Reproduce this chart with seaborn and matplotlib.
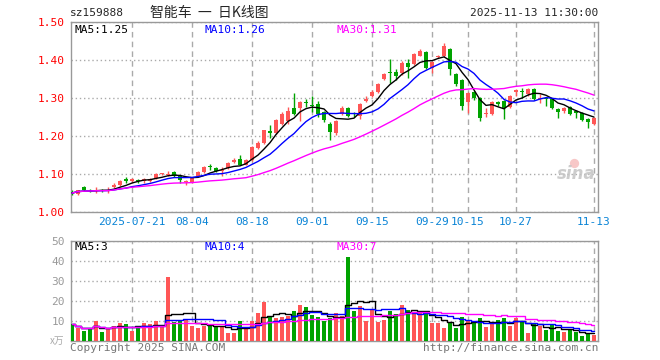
import numpy as np
import pandas as pd
import matplotlib
matplotlib.use("Agg")
import matplotlib.pyplot as plt
import seaborn as sns

# ── DATA ────────────────────────────────────────────────────────────────────
opens = [1.052, 1.047, 1.066, 1.058, 1.055, 1.058, 1.055, 1.066, 1.069, 1.085,
         1.082, 1.083, 1.080, 1.082, 1.089, 1.098, 1.097, 1.104, 1.094, 1.079,
         1.078, 1.094, 1.104, 1.120, 1.115, 1.107, 1.115, 1.132, 1.140, 1.124,
         1.135, 1.167, 1.180, 1.213, 1.208, 1.232, 1.240, 1.273, 1.273, 1.289,
         1.281, 1.284, 1.263, 1.232, 1.206, 1.258, 1.273, 1.260, 1.253, 1.292,
         1.305, 1.315, 1.349, 1.367, 1.367, 1.365, 1.391, 1.388, 1.411, 1.419,
         1.378, 1.407, 1.409, 1.427, 1.362, 1.346, 1.289, 1.315, 1.299, 1.258,
         1.258, 1.289, 1.292, 1.276, 1.316, 1.318, 1.310, 1.323, 1.297, 1.299,
         1.297, 1.271, 1.266, 1.276, 1.264, 1.260, 1.245, 1.232]
closes = [1.049, 1.057, 1.056, 1.056, 1.058, 1.055, 1.058, 1.069, 1.082, 1.082,
          1.086, 1.080, 1.086, 1.087, 1.099, 1.101, 1.100, 1.094, 1.083, 1.082,
          1.089, 1.104, 1.117, 1.117, 1.106, 1.110, 1.128, 1.135, 1.124, 1.135,
          1.169, 1.182, 1.214, 1.208, 1.242, 1.258, 1.266, 1.258, 1.289, 1.285,
          1.278, 1.258, 1.242, 1.209, 1.240, 1.273, 1.253, 1.256, 1.284, 1.297,
          1.315, 1.336, 1.362, 1.364, 1.357, 1.391, 1.380, 1.414, 1.422, 1.378,
          1.393, 1.409, 1.435, 1.375, 1.336, 1.279, 1.313, 1.299, 1.247, 1.261,
          1.289, 1.284, 1.273, 1.305, 1.319, 1.315, 1.323, 1.297, 1.300, 1.297,
          1.273, 1.263, 1.274, 1.258, 1.261, 1.242, 1.237, 1.247]
highs = [1.056, 1.058, 1.068, 1.060, 1.064, 1.060, 1.064, 1.075, 1.084, 1.091,
         1.089, 1.085, 1.089, 1.089, 1.101, 1.103, 1.106, 1.106, 1.096, 1.083,
         1.091, 1.106, 1.120, 1.125, 1.117, 1.117, 1.130, 1.141, 1.148, 1.140,
         1.172, 1.185, 1.216, 1.229, 1.245, 1.263, 1.276, 1.313, 1.292, 1.297,
         1.305, 1.292, 1.266, 1.235, 1.242, 1.278, 1.276, 1.263, 1.286, 1.305,
         1.320, 1.338, 1.365, 1.401, 1.375, 1.396, 1.401, 1.417, 1.427, 1.422,
         1.396, 1.412, 1.445, 1.430, 1.365, 1.349, 1.315, 1.318, 1.302, 1.273,
         1.292, 1.292, 1.294, 1.307, 1.323, 1.326, 1.326, 1.326, 1.310, 1.300,
         1.299, 1.273, 1.276, 1.279, 1.268, 1.263, 1.247, 1.250]
lows = [1.044, 1.044, 1.054, 1.053, 1.050, 1.053, 1.049, 1.062, 1.067, 1.076,
        1.078, 1.076, 1.076, 1.079, 1.087, 1.096, 1.094, 1.092, 1.076, 1.070,
        1.075, 1.092, 1.102, 1.109, 1.104, 1.094, 1.113, 1.128, 1.122, 1.122,
        1.133, 1.165, 1.178, 1.195, 1.205, 1.227, 1.232, 1.255, 1.240, 1.276,
        1.263, 1.250, 1.237, 1.188, 1.203, 1.255, 1.250, 1.250, 1.245, 1.290,
        1.303, 1.313, 1.346, 1.339, 1.346, 1.360, 1.352, 1.385, 1.409, 1.375,
        1.365, 1.404, 1.406, 1.360, 1.330, 1.268, 1.260, 1.294, 1.240, 1.250,
        1.255, 1.279, 1.245, 1.273, 1.305, 1.300, 1.305, 1.294, 1.286, 1.279,
        1.271, 1.247, 1.260, 1.255, 1.247, 1.240, 1.219, 1.227]
volumes = [8.3, 6.2, 5.0, 6.2, 10.0, 4.2, 6.3, 7.5, 8.7, 8.3,
           4.7, 7.0, 8.7, 8.3, 9.7, 6.7, 31.7, 9.5, 10.3, 10.3,
           7.2, 6.2, 7.2, 8.0, 7.5, 7.5, 3.7, 3.7, 9.7, 6.3,
           10.0, 13.7, 19.2, 12.0, 11.3, 12.0, 12.5, 15.0, 18.0, 17.0,
           13.0, 12.0, 9.7, 11.3, 13.7, 12.5, 42.0, 14.7, 17.5, 9.7,
           15.7, 9.2, 10.5, 15.0, 13.5, 18.0, 15.5, 13.7, 13.7, 13.7,
           8.7, 8.7, 6.2, 9.5, 6.2, 12.0, 10.0, 9.7, 11.3, 6.7,
           8.3, 10.3, 11.3, 7.2, 11.3, 10.0, 3.7, 8.3, 7.5, 5.5,
           8.0, 5.0, 4.5, 5.3, 4.5, 2.5, 3.7, 3.0]

tick_dates = ["2025-07-21", "2025-08-04", "2025-08-18", "2025-09-01", "2025-09-15",
              "2025-09-29", "2025-10-15", "2025-10-27", "2025-11-13"]
tick_labels = ["2025-07-21", "08-04", "08-18", "09-01", "09-15",
               "09-29", "10-15", "10-27", "11-13"]
price_ticks = [1.00, 1.10, 1.20, 1.30, 1.40, 1.50]
vol_ticks = [0, 10, 20, 30, 40, 50]

# trading days: weekdays, minus the October national holiday
days = pd.bdate_range("2025-07-07", "2025-11-13")
days = days[(days < "2025-10-01") | (days > "2025-10-08")]

df = pd.DataFrame({"date": days, "open": opens, "close": closes,
                   "high": highs, "low": lows, "volume": volumes})
df["idx"] = np.arange(len(df))
df["up"] = df["close"] >= df["open"]
for n in (5, 10, 30):
    df[f"ma{n}"] = df["close"].rolling(n, min_periods=1).mean()
    df[f"vma{n}"] = df["volume"].rolling(n, min_periods=1).mean()

tick_pos = [int(df.index[df["date"] == pd.Timestamp(d)][0]) for d in tick_dates]

# ── STYLE ───────────────────────────────────────────────────────────────────
sns.set_style("white")
plt.rcParams["font.family"] = ["DejaVu Sans Mono", "Noto Sans CJK SC"]

RED, GREEN = "#ff5656", "#00a300"
GRID = "#aaaaaa"
colors = np.where(df["up"], RED, GREEN)

W, H = 660, 360
fig = plt.figure(figsize=(6.6, 3.6), dpi=100)
ax = fig.add_axes([70.5 / W, 1 - 211.7 / H, 527 / W, 190 / H])
axv = fig.add_axes([70.5 / W, 1 - 340.7 / H, 527 / W, 100 / H])

xlim = (-0.25, -0.25 + 527 / 6)

# ── PRICE PANEL ─────────────────────────────────────────────────────────────
body = (df["close"] - df["open"]).abs().clip(lower=0.0022)
bottom = df[["open", "close"]].min(axis=1)
ax.vlines(df["idx"], df["low"], df["high"], colors=colors, lw=1, zorder=3)
ax.bar(df["idx"], body, bottom=bottom, width=0.75, color=colors, lw=0, zorder=4)

for col, c in (("ma5", "black"), ("ma10", "#0000ff"), ("ma30", "#ff00ff")):
    sns.lineplot(data=df, x="idx", y=col, ax=ax, color=c, lw=1, zorder=5)

ax.set_xlim(*xlim)
ax.set_ylim(1.0, 1.5)
ax.set_yticks(price_ticks)
ax.set_yticklabels([f"{p:.2f}" for p in price_ticks], color="#ff0000", fontsize=8)
ax.set_xticks(tick_pos)
ax.set_xticklabels(tick_labels, color="#0a84d6", fontsize=8)
ax.set_xlabel("")
ax.set_ylabel("")
ax.grid(axis="x", color=GRID, lw=1, linestyle=(0, (4, 3)))
ax.grid(axis="y", color=GRID, lw=1, linestyle=(0, (1, 2)))

ax.text(0.008, 0.985, "MA5:1.25", transform=ax.transAxes, fontsize=8,
        color="black", va="top")
ax.text(0.255, 0.985, "MA10:1.26", transform=ax.transAxes, fontsize=8,
        color="#0000ff", va="top")
ax.text(0.505, 0.985, "MA30:1.31", transform=ax.transAxes, fontsize=8,
        color="#ff00ff", va="top")
# faint sina watermark
ax.text(0.997, 0.15, "sina", transform=ax.transAxes, fontsize=12, color="#c4c4c4",
        ha="right", va="bottom", style="italic", weight="bold",
        family="DejaVu Sans", alpha=0.85)
ax.scatter([0.955], [0.255], transform=ax.transAxes, s=45, color="#f4b0b0",
           alpha=0.7, lw=0, zorder=2)

# ── VOLUME PANEL ────────────────────────────────────────────────────────────
axv.bar(df["idx"], df["volume"], width=0.82, color=colors, lw=0, zorder=3)
for col, c in (("vma5", "black"), ("vma10", "#0000ff"), ("vma30", "#ff00ff")):
    sns.lineplot(data=df, x="idx", y=col, ax=axv, color=c, lw=1, zorder=5,
                 drawstyle="steps-mid")

axv.set_xlim(*xlim)
axv.set_ylim(0, 50)
axv.set_yticks(vol_ticks)
axv.set_yticklabels([""] + [str(v) for v in vol_ticks[1:]], color="#999999", fontsize=8)
axv.set_xticks(tick_pos)
axv.set_xticklabels([])
axv.set_xlabel("")
axv.set_ylabel("")
axv.grid(axis="x", color=GRID, lw=1, linestyle=(0, (4, 3)))
axv.grid(axis="y", color=GRID, lw=1, linestyle=(0, (1, 2)))

axv.text(0.008, 0.985, "MA5:3", transform=axv.transAxes, fontsize=8,
         color="black", va="top")
axv.text(0.255, 0.985, "MA10:4", transform=axv.transAxes, fontsize=8,
         color="#0000ff", va="top")
axv.text(0.505, 0.985, "MA30:7", transform=axv.transAxes, fontsize=8,
         color="#ff00ff", va="top")

for a in (ax, axv):
    a.tick_params(length=0, pad=4)
    for s in a.spines.values():
        s.set_color("#999999")
        s.set_linewidth(1)

# ── HEADER / FOOTER TEXT ────────────────────────────────────────────────────
fig.text(70 / W, 1 - 13 / H, "sz159888", fontsize=8, va="center")
fig.text(150 / W, 1 - 13 / H, "智能车  一  日K线图", fontsize=10, va="center",
         family=["Noto Sans CJK SC", "DejaVu Sans"])
fig.text(598 / W, 1 - 13 / H, "2025-11-13 11:30:00", fontsize=8, va="center", ha="right")
fig.text(70 / W, 1 - 348 / H, "Copyright 2025 SINA.COM", fontsize=8,
         color="#777777", va="center")
fig.text(598 / W, 1 - 348 / H, "http://finance.sina.com.cn", fontsize=8,
         color="#777777", va="center", ha="right")
fig.text(64 / W, 1 - 341 / H, "x万", fontsize=7, color="#aaaaaa", va="center",
         ha="right", family=["Noto Sans CJK SC", "DejaVu Sans"])

fig.savefig("out.png", dpi=100)
